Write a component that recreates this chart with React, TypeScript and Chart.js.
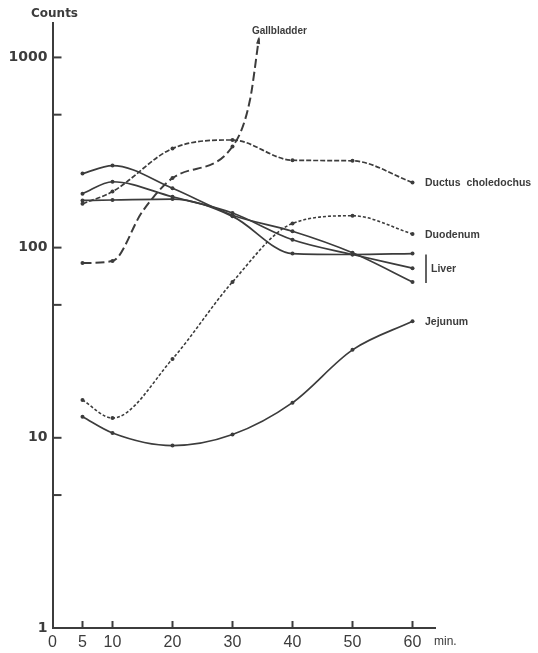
import React, { useEffect, useRef } from "react";
import { Chart, registerables } from "chart.js";

Chart.register(...registerables);

// ---- data ----
const times = [5, 10, 20, 30, 40, 50, 60];
const xTickValues = [0, 5, 10, 20, 30, 40, 50, 60];
const yTickValues = [1, 10, 100, 1000];
const yMinorTickValues = [5, 50, 500];

const ductusValues = [170, 197, 332, 368, 288, 286, 220];
const duodenumValues = [15.8, 12.7, 26, 66, 134, 147, 118];
const liverAValues = [245, 270, 205, 148, 122, 94, 66];
const liverBValues = [192, 222, 185, 152, 110, 92, 78];
const liverCValues = [177, 178, 180, 146, 93, 92, 93];
const jejunumValues = [12.9, 10.6, 9.1, 10.4, 15.3, 29, 41];
const gallbladderTimes = [5, 10, 15, 20, 30, 32.9, 34.4];
const gallbladderValues = [83, 85, 155, 232, 340, 595, 1260];

const X_MIN = 0;
const X_MAX = 63.75;
const Y_MIN = 1;
const Y_MAX = 1517;

const INK = "#3c3c3c";
const FONT = '"Liberation Sans", Arial, sans-serif';
const ROUND_FONT = '"DejaVu Sans", sans-serif';

function pts(xs: number[], ys: number[]) {
  return xs.map((x, i) => ({ x, y: ys[i] }));
}

const annotatePlugin = {
  id: "annotate",
  afterDraw(chart: any) {
    const { ctx, chartArea, scales } = chart;
    const xs = scales.x;
    const ys = scales.y;
    ctx.save();
    ctx.strokeStyle = INK;
    ctx.fillStyle = INK;
    ctx.lineWidth = 2;
    // inner tick marks on y axis
    [...yTickValues.filter((v) => v > 1), ...yMinorTickValues].forEach((v) => {
      const y = ys.getPixelForValue(v);
      ctx.beginPath();
      ctx.moveTo(chartArea.left, y);
      ctx.lineTo(chartArea.left + 9, y);
      ctx.stroke();
    });
    // inner tick marks on x axis
    xTickValues
      .filter((v) => v > 0)
      .forEach((v) => {
        const x = xs.getPixelForValue(v);
        ctx.beginPath();
        ctx.moveTo(x, chartArea.bottom);
        ctx.lineTo(x, chartArea.bottom - 7);
        ctx.stroke();
      });

    // axis titles
    ctx.textBaseline = "middle";
    ctx.textAlign = "center";
    ctx.font = `bold 12px ${ROUND_FONT}`;
    ctx.fillText("Counts", chartArea.left + 2, chartArea.top - 9);
    ctx.textAlign = "left";
    ctx.font = `12px ${FONT}`;
    ctx.fillText("min.", chartArea.right - 1, chartArea.bottom + 14);

    // series labels
    const endX = xs.getPixelForValue(times[times.length - 1]);
    const last = (arr: number[]) => ys.getPixelForValue(arr[arr.length - 1]);
    ctx.font = `bold 10.5px ${FONT}`;
    ctx.fillText("Ductus  choledochus", endX + 12.5, last(ductusValues) + 1);
    ctx.fillText("Duodenum", endX + 12.5, last(duodenumValues) + 1);
    ctx.fillText("Jejunum", endX + 12.5, last(jejunumValues) + 1);
    ctx.fillText("Liver", endX + 18.5, last(liverBValues) + 1);
    ctx.lineWidth = 1.6;
    ctx.beginPath();
    ctx.moveTo(endX + 13.5, last(liverCValues) + 1);
    ctx.lineTo(endX + 13.5, last(liverAValues) + 1);
    ctx.stroke();

    // gallbladder arrow head + label
    const n = gallbladderTimes.length;
    const tx = xs.getPixelForValue(gallbladderTimes[n - 1]);
    const ty = ys.getPixelForValue(gallbladderValues[n - 1]);
    const px = xs.getPixelForValue(gallbladderTimes[n - 2]);
    const py = ys.getPixelForValue(gallbladderValues[n - 2]);
    const ang = Math.atan2(ty - py, tx - px);
    const L = 6;
    ctx.beginPath();
    ctx.moveTo(tx + Math.cos(ang) * 2, ty + Math.sin(ang) * 2);
    ctx.lineTo(tx - L * Math.cos(ang - 0.35), ty - L * Math.sin(ang - 0.35));
    ctx.lineTo(tx - L * Math.cos(ang + 0.35), ty - L * Math.sin(ang + 0.35));
    ctx.closePath();
    ctx.fill();
    ctx.font = `bold 10px ${FONT}`;
    ctx.fillText("Gallbladder", tx - 7, ty - 7);
    ctx.restore();
  },
};

export default function App() {
  const ref = useRef<HTMLCanvasElement | null>(null);

  useEffect(() => {
    if (!ref.current) return;
    const lineBase = {
      borderColor: INK,
      backgroundColor: INK,
      pointBackgroundColor: INK,
      pointBorderWidth: 0,
      pointRadius: 2,
      fill: false,
      cubicInterpolationMode: "monotone" as const,
    };
    const chart = new Chart(ref.current, {
      type: "line",
      data: {
        datasets: [
          {
            ...lineBase,
            label: "Gallbladder",
            data: pts(gallbladderTimes, gallbladderValues),
            borderWidth: 2,
            borderDash: [9, 4],
            pointRadius: (c: any) => (times.includes(c.raw?.x) ? 2 : 0),
          },
          {
            ...lineBase,
            label: "Ductus choledochus",
            data: pts(times, ductusValues),
            borderWidth: 1.7,
            borderDash: [5, 2],
          },
          {
            ...lineBase,
            label: "Duodenum",
            data: pts(times, duodenumValues),
            borderWidth: 1.6,
            borderDash: [3, 2],
          },
          { ...lineBase, label: "Liver A", data: pts(times, liverAValues), borderWidth: 1.7 },
          { ...lineBase, label: "Liver B", data: pts(times, liverBValues), borderWidth: 1.7 },
          { ...lineBase, label: "Liver C", data: pts(times, liverCValues), borderWidth: 1.7 },
          { ...lineBase, label: "Jejunum", data: pts(times, jejunumValues), borderWidth: 1.7 },
        ],
      },
      options: {
        animation: false,
        responsive: false,
        devicePixelRatio: 1,
        layout: { padding: { top: 23, right: 103, left: 0, bottom: 0 } },
        plugins: { legend: { display: false }, tooltip: { enabled: false } },
        scales: {
          x: {
            type: "linear",
            min: X_MIN,
            max: X_MAX,
            grid: { display: false, drawTicks: false },
            border: { display: true, color: INK, width: 2 },
            afterBuildTicks: (s: any) => {
              s.ticks = xTickValues.map((v) => ({ value: v }));
            },
            afterFit: (s: any) => {
              s.height = 25;
            },
            ticks: {
              autoSkip: false,
              maxRotation: 0,
              padding: 5,
              color: INK,
              font: { family: FONT, size: 16 },
              callback: (v: any) => String(v),
            },
          },
          y: {
            type: "logarithmic",
            min: Y_MIN,
            max: Y_MAX,
            grid: { display: false, drawTicks: false },
            border: { display: true, color: INK, width: 2 },
            afterBuildTicks: (s: any) => {
              s.ticks = yTickValues.map((v) => ({ value: v }));
            },
            afterFit: (s: any) => {
              s.width = 52.5;
            },
            ticks: {
              autoSkip: false,
              padding: 5,
              color: INK,
              font: { family: ROUND_FONT, size: 14, weight: "bold" },
              callback: (v: any) => String(v),
            },
          },
        },
      },
      plugins: [annotatePlugin],
    });
    return () => chart.destroy();
  }, []);

  return (
    <div style={{ position: "absolute", left: 0, top: 0, width: 538, height: 653, background: "#fff" }}>
      <canvas ref={ref} width={538} height={653} />
    </div>
  );
}
